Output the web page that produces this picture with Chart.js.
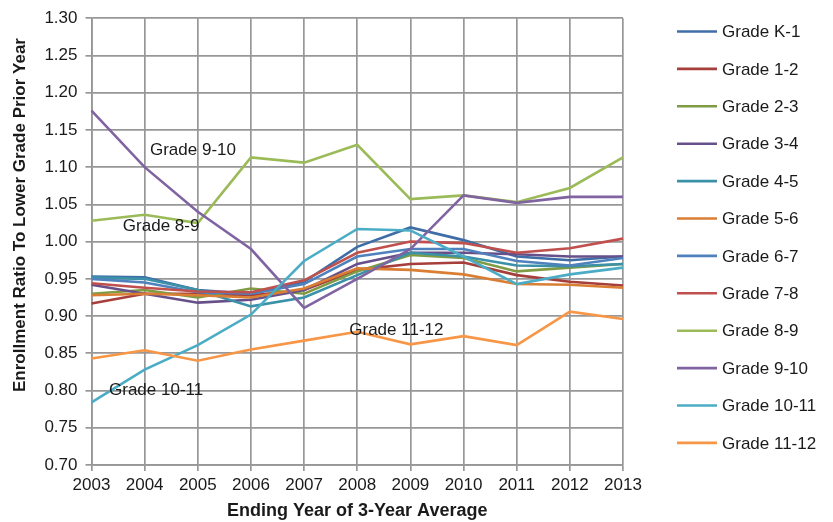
<!DOCTYPE html>
<html>
<head>
<meta charset="utf-8">
<script src="https://cdn.jsdelivr.net/npm/chart.js@4/dist/chart.umd.min.js"></script>
<style>
  html, body { margin: 0; padding: 0; background: #fff; }
  #wrap { position: relative; width: 833px; height: 522px; }
</style>
</head>
<body>
<div id="wrap"><canvas id="line-chart"></canvas></div>
<script>
// x categories
const years = ["2003", "2004", "2005", "2006", "2007", "2008", "2009", "2010", "2011", "2012", "2013"];

// ratio series
const gradeK1   = [0.953, 0.952, 0.935, 0.930, 0.946, 0.993, 1.019, 1.002, 0.980, 0.975, 0.980];
const grade1_2  = [0.917, 0.930, 0.930, 0.928, 0.935, 0.962, 0.970, 0.972, 0.955, 0.946, 0.941];
const grade2_3  = [0.930, 0.935, 0.925, 0.937, 0.930, 0.960, 0.982, 0.978, 0.960, 0.965, 0.970];
const grade3_4  = [0.942, 0.930, 0.918, 0.922, 0.935, 0.970, 0.985, 0.985, 0.983, 0.980, 0.980];
const grade4_5  = [0.952, 0.950, 0.935, 0.913, 0.925, 0.955, 0.985, 0.980, 0.968, 0.967, 0.970];
const grade5_6  = [0.928, 0.930, 0.928, 0.925, 0.937, 0.964, 0.962, 0.956, 0.943, 0.942, 0.938];
const grade6_7  = [0.950, 0.945, 0.932, 0.930, 0.943, 0.980, 0.990, 0.990, 0.974, 0.968, 0.978];
const grade7_8  = [0.944, 0.938, 0.933, 0.932, 0.948, 0.985, 1.000, 0.998, 0.985, 0.991, 1.004];
const grade8_9  = [1.028, 1.036, 1.025, 1.113, 1.106, 1.130, 1.057, 1.062, 1.053, 1.072, 1.113];
const grade9_10 = [1.176, 1.100, 1.040, 0.990, 0.911, 0.950, 0.990, 1.062, 1.052, 1.060, 1.060];
const grade10_11 = [0.784, 0.828, 0.861, 0.902, 0.974, 1.017, 1.015, 0.980, 0.943, 0.956, 0.965];
const grade11_12 = [0.843, 0.854, 0.840, 0.855, 0.867, 0.879, 0.862, 0.873, 0.861, 0.906, 0.896];

const seriesNames = ["Grade K-1", "Grade 1-2", "Grade 2-3", "Grade 3-4", "Grade 4-5", "Grade 5-6",
  "Grade 6-7", "Grade 7-8", "Grade 8-9", "Grade 9-10", "Grade 10-11", "Grade 11-12"];
const seriesValues = [gradeK1, grade1_2, grade2_3, grade3_4, grade4_5, grade5_6,
  grade6_7, grade7_8, grade8_9, grade9_10, grade10_11, grade11_12];
const seriesColors = ["#3F6DA6", "#A63E3B", "#7F9C45", "#67508A", "#3A91A8", "#DA7E34",
  "#4F81BD", "#C0504D", "#9BBB59", "#8064A2", "#4BACC6", "#F79646"];

// y axis ticks
const yMin = 0.70;
const yMax = 1.30;
const yStep = 0.05;

// text notes placed on the plot (x = year index, y = ratio)
const notes = [
  { text: "Grade 9-10", x: 1.1, y: 1.122 },
  { text: "Grade 8-9", x: 0.59, y: 1.020 },
  { text: "Grade 11-12", x: 4.85, y: 0.881 },
  { text: "Grade 10-11", x: 0.33, y: 0.800 },
];

const yTitle = "Enrollment Ratio To Lower Grade Prior Year";

const FONT = "'Liberation Sans', Arial, sans-serif";
const GRID = "#979797";
const TEXT = "#1a1a1a";

// datasets reversed so the last series sits on top
const datasets = seriesNames.map((name, i) => ({
  label: name,
  data: seriesValues[i],
  borderColor: seriesColors[i],
  backgroundColor: seriesColors[i],
  borderWidth: 2.6,
  pointRadius: 0,
  tension: 0,
  fill: false,
})).reverse();

const notesPlugin = {
  id: "notes",
  afterDatasetsDraw(chart) {
    const { ctx, scales } = chart;
    ctx.save();
    ctx.font = "17px " + FONT;
    ctx.fillStyle = TEXT;
    ctx.textAlign = "left";
    ctx.textBaseline = "middle";
    notes.forEach(n => {
      ctx.fillText(n.text, scales.x.getPixelForValue(n.x), scales.y.getPixelForValue(n.y));
    });
    ctx.restore();
  },
};

// y title sits a bit above the plot middle in the original, so draw it here
const yTitlePlugin = {
  id: "yTitle",
  afterDraw(chart) {
    const ctx = chart.ctx;
    ctx.save();
    ctx.translate(20, 215);
    ctx.rotate(-Math.PI / 2);
    ctx.font = "bold 17px " + FONT;
    ctx.fillStyle = TEXT;
    ctx.textAlign = "center";
    ctx.textBaseline = "middle";
    ctx.fillText(yTitle, 0, 0);
    ctx.restore();
  },
};

// legend column on the right, Excel style: short line then name
const sideLegend = {
  id: "sideLegend",
  afterDraw(chart) {
    const ctx = chart.ctx;
    const left = chart.chartArea.right + 54;
    ctx.save();
    ctx.font = "17px " + FONT;
    ctx.textAlign = "left";
    ctx.textBaseline = "middle";
    seriesNames.forEach((name, i) => {
      const y = 31.5 + i * 37.4;
      ctx.strokeStyle = seriesColors[i];
      ctx.lineWidth = 2.6;
      ctx.beginPath();
      ctx.moveTo(left, y);
      ctx.lineTo(left + 40, y);
      ctx.stroke();
      ctx.fillStyle = TEXT;
      ctx.fillText(name, left + 45, y + 1);
    });
    ctx.restore();
  },
};

const config = {
  type: "line",
  data: { labels: years, datasets: datasets },
  options: {
    responsive: true,
    maintainAspectRatio: false,
    animation: false,
    layout: { padding: { top: 3, right: 210, bottom: 0, left: 36.4 } },
    plugins: {
      legend: { display: false },
      tooltip: { enabled: false },
    },
    scales: {
      x: {
        offset: false,
        ticks: { color: TEXT, font: { family: FONT, size: 17 }, padding: 4, maxRotation: 0 },
        grid: { color: GRID, lineWidth: 1.7, tickLength: 6, tickColor: GRID },
        border: { color: GRID, width: 1.7 },
        title: {
          display: true,
          text: "Ending Year of 3-Year Average",
          color: TEXT,
          font: { family: FONT, size: 18, weight: "bold" },
          padding: { top: 1, bottom: 0 },
        },
      },
      // empty top axis used as a spacer above the plot
      xTop: {
        type: "category",
        position: "top",
        grid: { display: false, drawTicks: false },
        border: { display: false },
        ticks: { display: false },
        afterFit(scale) { scale.height = 15; },
      },
      y: {
        min: yMin,
        max: yMax,
        ticks: {
          stepSize: yStep,
          color: TEXT,
          font: { family: FONT, size: 17 },
          padding: 8,
          callback: v => v.toFixed(2),
        },
        grid: { color: GRID, lineWidth: 1.7, tickLength: 6, tickColor: GRID },
        border: { color: GRID, width: 1.7 },
        title: { display: false },
      },
    },
  },
  plugins: [notesPlugin, yTitlePlugin, sideLegend],
};

const ctx = document.getElementById("line-chart").getContext("2d");
new Chart(ctx, config);
</script>
</body>
</html>
